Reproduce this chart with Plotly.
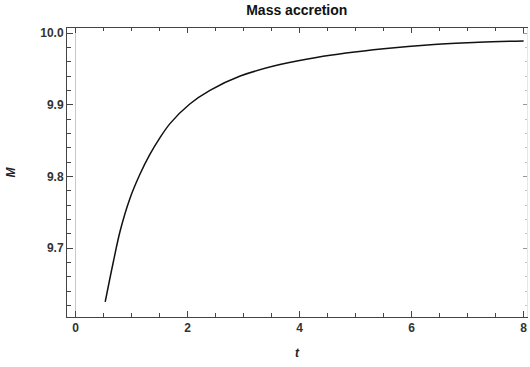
import plotly.graph_objects as go

# Mass as a function of time
t_vals = [0.53, 0.67, 0.80, 0.97, 1.15, 1.33, 1.50, 1.69, 2.04, 2.40, 2.94, 3.65, 4.30, 5.50, 6.40, 7.20, 8.00]
m_vals = [9.625, 9.679, 9.725, 9.769, 9.803, 9.831, 9.853, 9.874, 9.901, 9.920, 9.940, 9.956, 9.966, 9.978, 9.984, 9.987, 9.989]

x_range = [-0.152, 8.06]
y_range = [9.604, 10.007]

FONT = "Liberation Sans, Arial, sans-serif"
AX = "#444444"

fig = go.Figure()
fig.add_trace(go.Scatter(
    x=t_vals, y=m_vals, mode="lines",
    line=dict(color="#111111", width=1.5, shape="spline", smoothing=1.0),
    hoverinfo="skip", showlegend=False,
))
# invisible companion trace so the top/right frame axes get drawn
fig.add_trace(go.Scatter(x=[t_vals[0]], y=[m_vals[0]], xaxis="x2", yaxis="y2",
                         mode="markers", marker=dict(opacity=0), hoverinfo="skip",
                         showlegend=False))

tickfont = dict(family=FONT, size=12, color="#333333", weight="bold")

fig.update_layout(
    width=530, height=367,
    margin=dict(l=67, r=3, t=28, b=50),
    paper_bgcolor="white", plot_bgcolor="white",
    title=dict(text="<b>Mass accretion</b>", x=0.56, xanchor="center", y=0.985, yanchor="top",
               font=dict(family=FONT, size=14, color="#111111")),
    xaxis=dict(
        range=x_range, tickmode="linear", tick0=0, dtick=2, tickfont=tickfont,
        showline=True, linecolor=AX, linewidth=1, mirror=True,
        ticks="inside", ticklen=6, tickcolor=AX, tickwidth=1,
        minor=dict(tickmode="linear", tick0=0, dtick=0.5, ticks="inside", ticklen=4,
                   tickcolor=AX, tickwidth=1),
        showgrid=False, zeroline=False,
        title=dict(text="<b><i>t</i></b>", standoff=14,
                   font=dict(family=FONT, size=12, color="#222222")),
    ),
    yaxis=dict(
        range=y_range, tickmode="linear", tick0=9.7, dtick=0.1, tickformat=".1f",
        tickfont=tickfont, showline=True, linecolor=AX, linewidth=1,
        ticks="inside", ticklen=6, tickcolor=AX, tickwidth=1,
        minor=dict(tickmode="linear", tick0=9.6, dtick=0.02, ticks="inside", ticklen=4,
                   tickcolor=AX, tickwidth=1),
        showgrid=False, zeroline=False,
        title=dict(text="<b><i>M</i></b>", standoff=22,
                   font=dict(family=FONT, size=12, color="#222222")),
    ),
    # top frame ticks
    xaxis2=dict(range=x_range, overlaying="x", side="top", showticklabels=False,
                tickmode="linear", tick0=0, dtick=2, ticks="inside", ticklen=5,
                tickcolor=AX, tickwidth=1,
                minor=dict(tickmode="linear", tick0=0, dtick=0.5, ticks="inside", ticklen=3,
                           tickcolor=AX, tickwidth=1),
                showgrid=False, zeroline=False),
    # faint right frame
    yaxis2=dict(range=y_range, overlaying="y", side="right", showticklabels=False,
                showline=True, linecolor="#e6e6e6", linewidth=1,
                tickmode="linear", tick0=9.7, dtick=0.1, ticks="inside", ticklen=4,
                tickcolor="#9a9a9a", tickwidth=1,
                minor=dict(tickmode="linear", tick0=9.6, dtick=0.02, ticks="inside", ticklen=2,
                           tickcolor="#c4c4c4", tickwidth=1),
                showgrid=False, zeroline=False),
    shapes=[dict(type="line", xref="x", yref="paper", x0=0, x1=0, y0=0, y1=1,
                 line=dict(color="#c8c8c8", width=1), layer="below")],
)

fig.write_html("out.html")
